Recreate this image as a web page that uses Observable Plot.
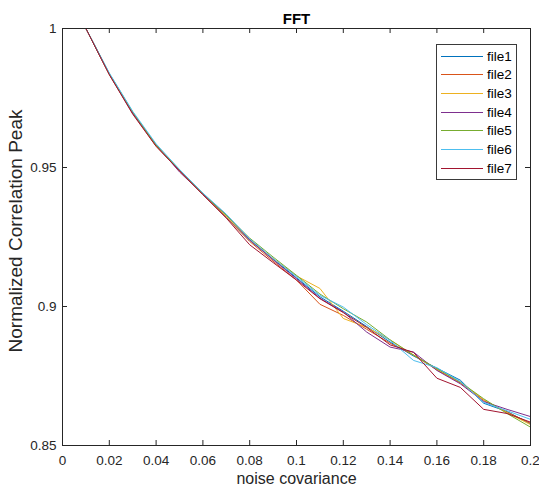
<!DOCTYPE html>
<html>
<head>
<meta charset="utf-8">
<script src="https://cdn.jsdelivr.net/npm/d3@7"></script>
<script src="https://cdn.jsdelivr.net/npm/@observablehq/plot@0.6"></script>
<style>
  html, body { margin: 0; padding: 0; background: #fff; overflow: hidden; }
  #wrap { position: relative; width: 539px; height: 495px; }
  #legend { position: absolute; left: 436px; top: 44px; width: 81px; height: 136px;
    border: 1px solid #3a3a3a; background: #fff; box-sizing: border-box;
    font-family: "Liberation Sans", Arial, sans-serif; font-size: 13.5px; color: #000; }
  .row { position: absolute; left: 4px; height: 18px; display: flex; align-items: center; }
  .sw { width: 42px; height: 0; border-top: 1px solid; margin-right: 4px; }
</style>
</head>
<body>
<div id="wrap"><div id="legend"></div></div>
<script>
const xValues = [0.01,0.02,0.03,0.04,0.05,0.06,0.07,0.08,0.09,0.10,0.11,0.12,0.13,0.14,0.15,0.16,0.17,0.18,0.19,0.20];
const seriesNames = ["file1","file2","file3","file4","file5","file6","file7"];
const seriesColors = ["#0072BD","#D95319","#EDB120","#7E2F8E","#77AC30","#4DBEEE","#A2142F"];
const file1 = [1.0,0.9836,0.9697,0.9578,0.9490,0.9405,0.9322,0.9238,0.9170,0.9103,0.9035,0.8983,0.8928,0.8872,0.8822,0.8778,0.8735,0.8652,0.8622,0.8578];
const file2 = [1.0,0.9834,0.9695,0.9577,0.9488,0.9403,0.9320,0.9234,0.9163,0.9095,0.9008,0.8968,0.8918,0.8868,0.8826,0.8772,0.8725,0.8662,0.8620,0.8580];
const file3 = [1.0,0.9836,0.9698,0.9579,0.9491,0.9405,0.9326,0.9240,0.9172,0.9110,0.9065,0.8957,0.8925,0.8880,0.8825,0.8775,0.8728,0.8665,0.8618,0.8575];
const file4 = [1.0,0.9836,0.9696,0.9582,0.9484,0.9404,0.9330,0.9240,0.9168,0.9100,0.9030,0.8980,0.8908,0.8854,0.8836,0.8770,0.8722,0.8658,0.8630,0.8604];
const file5 = [1.0,0.9838,0.9700,0.9580,0.9492,0.9407,0.9328,0.9246,0.9178,0.9112,0.9045,0.8992,0.8944,0.8880,0.8825,0.8776,0.8728,0.8668,0.8615,0.8566];
const file6 = [1.0,0.9840,0.9702,0.9585,0.9493,0.9408,0.9332,0.9243,0.9173,0.9108,0.9040,0.8998,0.8935,0.8878,0.8806,0.8780,0.8730,0.8655,0.8625,0.8594];
const file7 = [1.0,0.9834,0.9692,0.9576,0.9488,0.9402,0.9318,0.9222,0.9158,0.9095,0.9028,0.8978,0.8925,0.8862,0.8835,0.8742,0.8709,0.8630,0.8615,0.8584];
const xTicks = [0,0.02,0.04,0.06,0.08,0.1,0.12,0.14,0.16,0.18,0.2];
const xTickLabels = ["0","0.02","0.04","0.06","0.08","0.1","0.12","0.14","0.16","0.18","0.2"];
const yTicks = [0.85,0.9,0.95,1];
const yTickLabels = ["0.85","0.9","0.95","1"];
const titleText = "FFT";
const xLabel = "noise covariance";
const yLabel = "Normalized Correlation Peak";

const allSeries = [file1,file2,file3,file4,file5,file6,file7];
const data = [];
allSeries.forEach((vals, si) => vals.forEach((v, i) => data.push({file: seriesNames[si], x: xValues[i], y: v})));

const W = 539, H = 495, mL = 62, mR = 9, mT = 28, mB = 50;
const innerW = W - mL - mR, innerH = H - mT - mB, tl = 5;
const axisColor = "#262626";
const xFmt = new Map(xTicks.map((d, i) => [d, xTickLabels[i]]));
const yFmt = new Map(yTicks.map((d, i) => [d, yTickLabels[i]]));

const chart = Plot.plot({
  width: W, height: H,
  marginLeft: mL, marginRight: mR, marginTop: mT, marginBottom: mB,
  style: {fontFamily: "'Liberation Sans', Arial, sans-serif", background: "white", color: "#262626"},
  x: {domain: [0, 0.2]},
  y: {domain: [0.85, 1]},
  color: {domain: seriesNames, range: seriesColors},
  marks: [
    Plot.lineY(data, {x: "x", y: "y", z: "file", stroke: "file", strokeWidth: 1}),
    Plot.frame({stroke: axisColor, strokeWidth: 1}),
    Plot.tickX(xTicks, {x: d => d, insetTop: innerH - tl, stroke: axisColor}),
    Plot.tickX(xTicks, {x: d => d, insetBottom: innerH - tl, stroke: axisColor}),
    Plot.tickY(yTicks, {y: d => d, insetRight: innerW - tl, stroke: axisColor}),
    Plot.tickY(yTicks, {y: d => d, insetLeft: innerW - tl, stroke: axisColor}),
    Plot.axisX(xTicks, {tickSize: 0, tickPadding: 10, tickFormat: d => xFmt.get(d), fontSize: 13.5, label: null, fill: "#262626"}),
    Plot.axisY(yTicks, {tickSize: 0, tickPadding: 6, tickFormat: d => yFmt.get(d), fontSize: 13.5, label: null, fill: "#262626"}),
    Plot.text([xLabel], {frameAnchor: "bottom", dy: 38, fontSize: 16, textAnchor: "middle", fill: "#262626"}),
    Plot.text([yLabel], {frameAnchor: "left", dx: -47, dy: -6, rotate: -90, fontSize: 19, textAnchor: "middle", fill: "#262626"}),
    Plot.text([titleText], {frameAnchor: "top", dy: -15, fontSize: 15, fontWeight: "bold", fill: "#000"})
  ]
});
const wrap = document.getElementById("wrap");
wrap.insertBefore(chart, wrap.firstChild);

const legend = document.getElementById("legend");
seriesNames.forEach((name, i) => {
  const row = document.createElement("div");
  row.className = "row";
  row.style.top = (2 + i * 18.7) + "px";
  const sw = document.createElement("div");
  sw.className = "sw";
  sw.style.borderTopColor = seriesColors[i];
  const label = document.createElement("span");
  label.textContent = name;
  row.appendChild(sw);
  row.appendChild(label);
  legend.appendChild(row);
});
</script>
</body>
</html>
